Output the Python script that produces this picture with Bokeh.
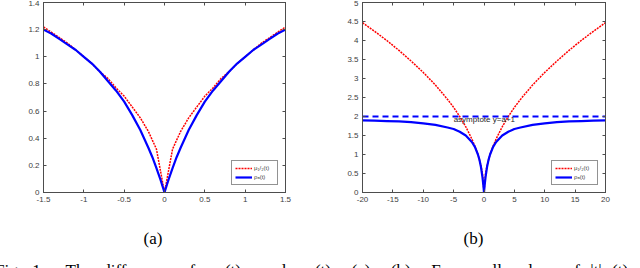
from bokeh.plotting import figure
from bokeh.models import Range1d, LinearAxis, FixedTicker, Legend, LegendItem, Label, Title, Div
from bokeh.layouts import row, column
from bokeh.embed import file_html
from bokeh.resources import INLINE

# ---------------- data (positive half; curves are symmetric) ----------------
# panel (a)
t_mu_a = [0, 0.1, 0.2, 0.3, 0.4, 0.5, 0.6, 0.7, 0.8, 0.9, 1.0, 1.1, 1.2, 1.3, 1.4, 1.5]
mu_a = [0, 0.32, 0.45, 0.55, 0.63, 0.71, 0.77, 0.84, 0.89, 0.95, 1.0, 1.05, 1.10, 1.14, 1.18, 1.22]
t_rho_a = [0, 0.05, 0.1, 0.15, 0.2, 0.3, 0.4, 0.5, 0.6, 0.7, 0.8, 0.9, 1.0, 1.1, 1.2, 1.3, 1.4, 1.5]
rho_a = [0, 0.095, 0.18, 0.26, 0.33, 0.46, 0.57, 0.67, 0.75, 0.82, 0.89, 0.95, 1.0, 1.05, 1.09, 1.13, 1.17, 1.20]

# panel (b)
t_mu_b = [0, 0.25, 0.5, 1, 1.5, 2, 3, 4, 5, 6, 8, 10, 12, 14, 16, 18, 20]
mu_b = [0, 0.5, 0.71, 1.0, 1.22, 1.41, 1.73, 2.0, 2.24, 2.45, 2.83, 3.16, 3.46, 3.74, 4.0, 4.24, 4.47]
t_rho_b = [0, 0.1, 0.25, 0.5, 0.75, 1, 1.5, 2, 3, 4, 5, 6, 8, 10, 12, 14, 16, 18, 20]
rho_b = [0, 0.18, 0.4, 0.67, 0.86, 1.0, 1.2, 1.33, 1.5, 1.6, 1.67, 1.71, 1.78, 1.82, 1.85, 1.87, 1.88, 1.89, 1.90]
asym_x = [-20, 20]
asym_y = [2, 2]

xticks_a = [-1.5, -1, -0.5, 0, 0.5, 1, 1.5]
xlabels_a = ["-1.5", "-1", "-0.5", "0", "0.5", "1", "1.5"]
yticks_a = [0, 0.2, 0.4, 0.6, 0.8, 1, 1.2, 1.4]
ylabels_a = ["0", "0.2", "0.4", "0.6", "0.8", "1", "1.2", "1.4"]
xticks_b = [-20, -15, -10, -5, 0, 5, 10, 15, 20]
xlabels_b = ["-20", "-15", "-10", "-5", "0", "5", "10", "15", "20"]
yticks_b = [0, 0.5, 1, 1.5, 2, 2.5, 3, 3.5, 4, 4.5, 5]
ylabels_b = ["0", "0.5", "1", "1.5", "2", "2.5", "3", "3.5", "4", "4.5", "5"]

legend_labels = ["\u03bc\u2081/\u2082(t)", "\u03c1\u2090(t)"]
captions = ["(a)", "(b)"]
asym_text = "asymptote y=a+1"
fig_caption = ("Fig. 1:&nbsp; The difference of &nbsp;\u03bc(t)&nbsp; and &nbsp;\u03c1(t)&nbsp; "
               "(a)&nbsp; (b)&nbsp; For small values of |t| (t)")


def mirror(t, y):
    xs = [-v for v in reversed(t[1:])] + list(t)
    ys = list(reversed(y[1:])) + list(y)
    return xs, ys


AX = "#4d4d4d"
LBL = "#404040"
FONT = "Liberation Sans"


def style_axis(ax, ticks, labels, show):
    ax.ticker = FixedTicker(ticks=ticks)
    if show:
        ax.major_label_overrides = {t: l for t, l in zip(ticks, labels)}
        ax.major_label_text_font = FONT
        ax.major_label_text_font_size = "8px"
        ax.major_label_text_color = LBL
        ax.major_label_standoff = 4
    else:
        ax.major_label_overrides = {t: "" for t in ticks}
        ax.major_label_text_font_size = "0px"
        ax.major_label_standoff = 0
    ax.major_tick_in = 3
    ax.major_tick_out = 0
    ax.minor_tick_line_color = None
    ax.axis_line_color = AX
    ax.major_tick_line_color = AX


def make_panel(xr, yr, xt, xl, yt, yl, mu, rho, bl, fw, br, cap_off, caption, asym=None):
    p = figure(frame_width=fw, frame_height=190,
               x_range=Range1d(*xr), y_range=Range1d(*yr),
               output_backend="svg", toolbar_location=None,
               min_border_left=bl, min_border_right=br,
               min_border_top=2, min_border_bottom=40)
    p.xgrid.grid_line_color = None
    p.ygrid.grid_line_color = None
    p.outline_line_color = AX
    p.background_fill_color = None
    p.border_fill_color = None
    style_axis(p.xaxis[0], xt, xl, True)
    style_axis(p.yaxis[0], yt, yl, True)
    top = LinearAxis()
    style_axis(top, xt, xl, False)
    right = LinearAxis()
    style_axis(right, yt, yl, False)
    p.add_layout(top, "above")
    p.add_layout(right, "right")

    mx, my = mirror(*mu)
    rx, ry = mirror(*rho)
    r_mu = p.line(mx, my, line_color="#ff0000", line_width=1.5, line_dash="2 1")
    r_rho = p.line(rx, ry, line_color="#0000ff", line_width=2.2)
    if asym is not None:
        p.line(asym[0], asym[1], line_color="#0000ff", line_width=2.2, line_dash="6 4")
        p.add_layout(Label(x=-5, y=1.91, text=asym_text, text_font=FONT,
                           text_font_size="8px", text_color="#262626",
                           text_baseline="middle", text_align="left"))

    leg = Legend(items=[LegendItem(label=legend_labels[0], renderers=[r_mu]),
                        LegendItem(label=legend_labels[1], renderers=[r_rho])],
                 location="bottom_right")
    leg.label_text_font = FONT
    leg.label_text_font_size = "6px"
    leg.label_height = 8
    leg.glyph_width = 17
    leg.glyph_height = 8
    leg.spacing = 1
    leg.padding = 3
    leg.margin = 7
    leg.label_standoff = 2
    leg.border_line_color = "#262626"
    leg.border_line_width = 1
    leg.background_fill_color = "white"
    p.add_layout(leg)

    cap = Title(text=caption, align="left", offset=cap_off, standoff=44,
                text_font="Liberation Serif", text_font_size="17px",
                text_font_style="normal", text_color="#000000")
    p.add_layout(cap, "below")
    return p


pa = make_panel((-1.5, 1.5), (0, 1.4), xticks_a, xlabels_a, yticks_a, ylabels_a,
                (t_mu_a, mu_a), (t_rho_a, rho_a), 43, 242, 35, 100, captions[0])
pb = make_panel((-20, 20), (0, 5), xticks_b, xlabels_b, yticks_b, ylabels_b,
                (t_mu_b, mu_b), (t_rho_b, rho_b), 42, 243, 27, 101, captions[1],
                asym=(asym_x, asym_y))

note = Div(text=fig_caption, width=632, height=20,
           styles={"font-family": "Liberation Serif", "font-size": "17px",
                   "line-height": "20px", "white-space": "nowrap",
                   "overflow": "hidden", "word-spacing": "6px", "color": "#000000",
                   "margin-top": "-8px", "margin-left": "-5px"})

layout = column(row(pa, pb), note, spacing=0)

open("out.html", "w").write(file_html(layout, INLINE))
